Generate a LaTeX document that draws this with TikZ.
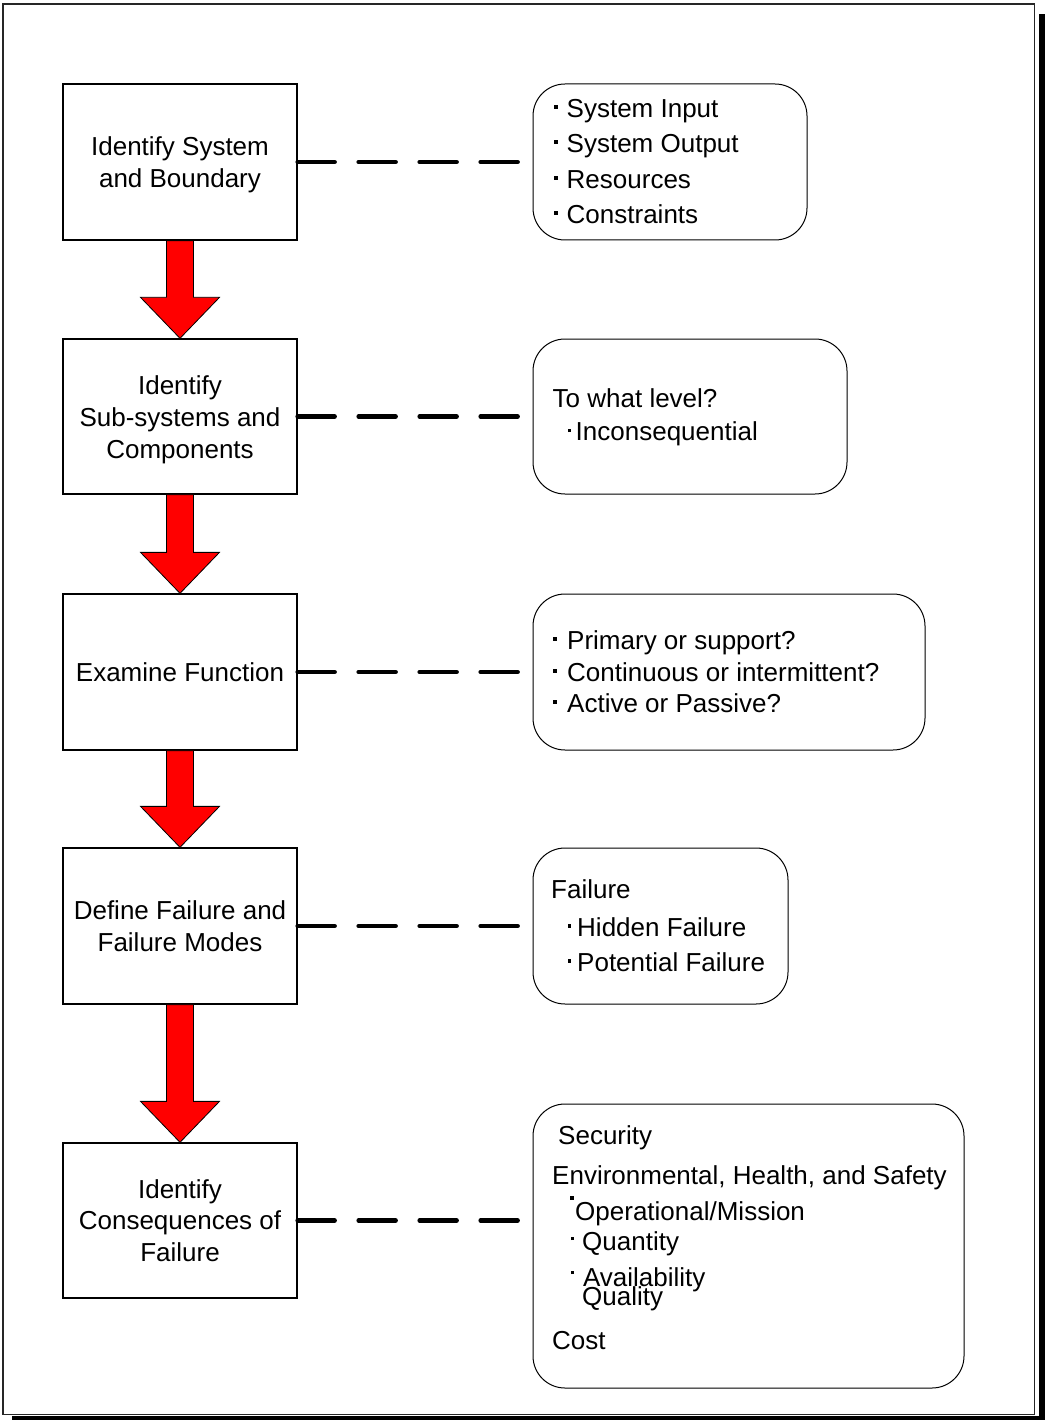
\documentclass[tikz,border=0pt]{standalone}
\usepackage{fontspec}
\setmainfont{Liberation Sans}
\usetikzlibrary{calc}
% bullet: width of the box, raise of the dot
\newcommand\bu[2]{\makebox[#1pt][l]{\rule[#2pt]{3.5pt}{3.5pt}}}
\newcommand\topstrut{\rule{0pt}{25pt}}
\begin{document}
\begin{tikzpicture}[x=1pt,y=-1pt,
  stepbox/.style={draw=black,line width=1.3pt,fill=white,minimum width=234pt,minimum height=156pt,align=center,inner sep=0pt,font=\fontsize{26}{31.7}\selectfont},
  notebox/.style={draw=black,line width=1pt,rounded corners=32pt,fill=white,inner sep=0pt},
  txt/.style={anchor=base west,inner sep=0pt,font=\fontsize{26}{31.7}\selectfont},
  link/.style={line width=4.5pt,line cap=round,dash pattern=on 37pt off 24pt},
  flow/.style={fill=red,draw=black,line width=0.8pt,line join=miter}
]
\useasboundingbox (0,0) rectangle (1045,1420);
% frame and shadow
\fill[black] (1038.5,14) rectangle (1045,1420);
\fill[black] (12,1416) rectangle (1045,1420);
\draw[line width=1.3pt,draw=black!85] (3,4) rectangle (1034.5,1414.5);

% step boxes
\node[stepbox] (s1) at (180,162) {\topstrut Identify System\\and Boundary};
\node[stepbox,minimum height=155pt] (s2) at (180,416.5) {\topstrut Identify\\Sub-systems and\\Components};
\node[stepbox] (s3) at (180,672) {Examine Function};
\node[stepbox] (s4) at (180,926) {Define Failure and\\Failure Modes};
\node[stepbox,minimum height=155pt] (s5) at (180,1220.5) {Identify\\Consequences of\\Failure};

% note boxes
\node[notebox,minimum width=274pt,minimum height=156pt] (n1) at (670,162) {};
\node[notebox,minimum width=314pt,minimum height=155pt] (n2) at (690,416.5) {};
\node[notebox,minimum width=392pt,minimum height=156pt] (n3) at (729,672) {};
\node[notebox,minimum width=255pt,minimum height=156pt] (n4) at (660.5,926) {};
\node[notebox,minimum width=431pt,minimum height=284pt] (n5) at (748.5,1246) {};

% dashed links
\draw[link] (s1.east) -- (n1.west);
\draw[link] (s2.east) -- (n2.west);
\draw[link] (s3.east) -- (n3.west);
\draw[link] (s4.east) -- (n4.west);
\draw[link] (s5.east) -- (s5.east -| n5.west);

% red block arrows
\foreach \a/\b in {s1/s2,s2/s3,s3/s4,s4/s5}{
  \filldraw[flow] ($(\a.south)+(-13.5,0)$) -- ($(\b.north)+(-13.5,-41)$)
    -- ($(\b.north)+(-39.5,-41)$) -- (\b.north) -- ($(\b.north)+(39.5,-41)$)
    -- ($(\b.north)+(13.5,-41)$) -- ($(\a.south)+(13.5,0)$) -- cycle;
}

% texts of box 1
\node[txt] (t11) at (554,118) {\bu{12.5}{9}System Input};
\node[txt] (t12) at (554,153) {\bu{12.5}{9}System Output};
\node[txt] (t13) at (554,189) {\bu{12.5}{9}Resources};
\node[txt] (t14) at (554,224) {\bu{12.5}{9}Constraints};
% box 2
\node[txt] (t21) at (552.5,407) {To what level?};
\node[txt] (t22) at (567.5,440) {\bu{8}{8}Inconsequential};
% box 3
\node[txt] (t31) at (553,649) {\bu{14}{8.5}Primary or support?};
\node[txt] (t32) at (553,681) {\bu{14}{8.5}Continuous or intermittent?};
\node[txt] (t33) at (553,712) {\bu{14}{8.5}Active or Passive?};
% box 4
\node[txt] (t41) at (551,898) {Failure};
\node[txt] (t42) at (567.5,936) {\bu{9.5}{8.5}Hidden Failure};
\node[txt] (t43) at (567.5,971) {\bu{9.5}{8.5}Potential Failure};
% box 5
\node[txt] (t51) at (558,1144) {Security};
\node[txt] (t52) at (552,1184) {Environmental, Health, and Safety};
\node[txt] (t53) at (570,1220) {\bu{5}{20.5}Operational/Mission};
\node[txt] (t54) at (570.5,1250) {\bu{11.5}{10}Quantity};
\node[txt] (t55) at (570.5,1286.5) {\bu{12.3}{12.4}Availability};
\node[txt] (t56) at (582,1305) {Quality};
\node[txt] (t57) at (552,1349) {Cost};
\end{tikzpicture}
\end{document}
